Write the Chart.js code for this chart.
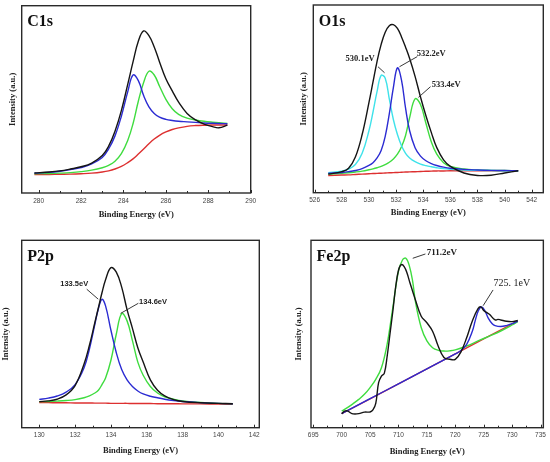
<!DOCTYPE html>
<html>
<head>
<meta charset="utf-8">
<script src="https://cdn.jsdelivr.net/npm/chart.js@4.4.1/dist/chart.umd.min.js"></script>
<style>
  html, body { margin: 0; padding: 0; background: #fff; }
  #wrap { position: relative; width: 550px; height: 462px; overflow: hidden; }
  .panel { position: absolute; width: 275px; height: 231px; }
</style>
</head>
<body>
<div id="wrap">
  <div class="panel" style="left:0;top:0"><canvas id="c1s" width="275" height="231"></canvas></div>
  <div class="panel" style="left:275px;top:0"><canvas id="o1s" width="275" height="231"></canvas></div>
  <div class="panel" style="left:0;top:231px"><canvas id="p2p" width="275" height="231"></canvas></div>
  <div class="panel" style="left:275px;top:231px"><canvas id="fe2p" width="275" height="231"></canvas></div>
</div>
<script>
// ---- C1s ----
var c1sEnergy = [279.8, 280.5, 281, 281.5, 282, 282.5, 283, 283.3, 283.6, 283.9, 284.2, 284.45, 284.7, 284.95, 285.2, 285.45, 285.7, 286, 286.3, 286.6, 287, 287.4, 287.8, 288.2, 288.5, 288.9];
var c1sTotal = [10.7, 11.2, 11.8, 12.8, 14.0, 16.0, 20.0, 25.0, 33.0, 44.0, 58.0, 70.0, 81.0, 86.5, 84.0, 78.0, 70.0, 61.0, 54.5, 48.5, 42.5, 39.0, 36.8, 35.4, 34.8, 36.2];
var c1sPeakA = [10.6, 11.0, 11.6, 12.5, 13.6, 15.5, 19.0, 23.5, 30.5, 41.0, 54.0, 63.0, 60.0, 52.0, 46.0, 42.5, 40.5, 39.3, 38.7, 38.3, 38.0, 37.7, 37.4, 37.2, 37.1, 37.0];
var c1sPeakB = [10.3, 10.4, 10.6, 10.9, 11.4, 12.2, 13.5, 14.8, 17.0, 21.0, 28.0, 37.0, 49.0, 59.0, 65.0, 63.0, 57.0, 50.0, 45.0, 42.0, 40.0, 39.0, 38.3, 37.8, 37.5, 37.2];
var c1sBackground = [9.8, 9.9, 10.0, 10.1, 10.3, 10.6, 11.2, 11.8, 12.8, 14.2, 16.2, 18.2, 20.8, 23.5, 26.3, 28.8, 30.8, 32.6, 33.9, 34.8, 35.6, 36.0, 36.2, 36.3, 36.3, 36.3];

// ---- O1s ----
var o1sEnergy = [527, 528, 528.5, 529, 529.5, 530, 530.3, 530.6, 530.9, 531.2, 531.5, 531.8, 532.1, 532.4, 532.7, 533, 533.4, 533.8, 534.2, 534.6, 535, 535.5, 536, 537, 538, 539, 540, 541];
var o1sTotal = [9.9, 11.2, 13.0, 19.0, 31.0, 48.0, 59.0, 70.0, 79.0, 85.5, 89.0, 89.5, 87.5, 83.0, 77.5, 71.5, 62.0, 51.0, 41.0, 32.0, 24.0, 17.5, 14.0, 10.5, 9.2, 9.3, 10.5, 11.7];
var o1sPeak530 = [10.7, 11.5, 12.5, 15.0, 21.0, 33.0, 43.0, 54.0, 62.5, 61.0, 50.0, 39.0, 31.0, 25.0, 21.0, 18.5, 16.5, 15.2, 14.4, 13.8, 13.3, 12.8, 12.5, 12.1, 11.9, 11.8, 11.7, 11.7];
var o1sPeak532 = [10.3, 10.8, 11.2, 11.8, 12.8, 14.5, 16.0, 18.5, 22.5, 30.0, 42.0, 56.0, 66.5, 60.0, 45.0, 33.0, 24.0, 19.5, 17.0, 15.5, 14.5, 13.6, 13.0, 12.4, 12.1, 11.9, 11.8, 11.7];
var o1sPeak533 = [9.9, 10.3, 10.6, 11.0, 11.5, 12.2, 12.7, 13.3, 14.0, 15.0, 16.2, 18.0, 20.5, 24.5, 30.5, 40.0, 50.0, 47.0, 37.0, 27.0, 20.5, 16.0, 14.0, 12.6, 12.1, 11.9, 11.8, 11.7];
var o1sBackground = [9.2, 9.4, 9.5, 9.7, 9.9, 10.1, 10.2, 10.3, 10.4, 10.5, 10.6, 10.7, 10.8, 10.9, 11.0, 11.1, 11.2, 11.3, 11.4, 11.5, 11.6, 11.6, 11.7, 11.7, 11.7, 11.7, 11.7, 11.7];

// ---- P2p ----
var p2pEnergy = [130, 130.5, 131, 131.5, 132, 132.5, 132.8, 133.1, 133.3, 133.5, 133.7, 134, 134.3, 134.6, 134.9, 135.2, 135.5, 135.8, 136.2, 136.6, 137, 137.5, 138, 139, 140, 140.8];
var p2pTotal = [13.9, 14.3, 15.2, 17.5, 22.5, 34.0, 44.0, 56.0, 64.0, 72.0, 79.0, 85.4, 83.0, 75.0, 63.0, 53.0, 42.7, 35.0, 25.5, 20.0, 17.0, 15.0, 14.0, 13.3, 13.0, 12.8];
var p2pPeak1335 = [15.1, 15.8, 16.9, 19.0, 23.0, 32.0, 42.0, 55.0, 63.5, 68.5, 65.0, 52.0, 40.0, 31.0, 25.5, 22.0, 19.6, 18.0, 16.8, 16.0, 15.2, 14.5, 14.0, 13.4, 13.0, 12.8];
var p2pPeak1346 = [13.9, 14.0, 14.2, 14.5, 15.0, 16.0, 17.0, 18.5, 20.0, 23.0, 26.5, 36.0, 50.0, 60.9, 57.0, 46.5, 35.0, 28.0, 22.0, 18.5, 16.5, 15.2, 14.3, 13.5, 13.0, 12.8];
var p2pBackground = [13.4, 13.4, 13.3, 13.3, 13.2, 13.2, 13.2, 13.1, 13.1, 13.1, 13.1, 13.0, 13.0, 13.0, 13.0, 12.9, 12.9, 12.9, 12.9, 12.8, 12.8, 12.8, 12.7, 12.7, 12.6, 12.5];

// ---- Fe2p ----
var fe2pTotalEnergy = [700, 700.5, 701, 701.5, 702, 703, 704, 705, 705.5, 706, 706.5, 707, 707.5, 708, 708.5, 709, 709.5, 710, 710.5, 711, 711.5, 712, 713, 714, 715, 716, 717, 718, 719, 720, 721, 722, 723, 724, 724.5, 725, 725.5, 726, 727, 727.5, 728, 729, 730, 731];
var fe2pTotal = [7.5, 8.8, 9.0, 8.0, 7.4, 7.5, 8.3, 8.4, 9.5, 13.0, 24.0, 27.5, 29.0, 38.0, 50.0, 62.0, 75.0, 84.0, 87.0, 86.0, 82.5, 77.5, 68.0, 59.5, 56.0, 51.5, 43.5, 37.5, 36.5, 36.5, 40.5, 48.0, 57.0, 63.5, 64.5, 62.5, 61.5, 60.5, 57.5, 57.8, 57.5, 56.8, 56.6, 57.2];
var fe2pFitEnergy = [700, 701, 702, 703, 704, 705, 706, 707, 708, 709, 710, 710.7, 711.3, 711.9, 712.5, 713, 714, 715, 716, 717, 718, 719, 720, 722, 724, 726, 728, 730, 731];
var fe2pFit711 = [8.9, 10.7, 12.8, 15.1, 17.8, 21.4, 25.8, 32.0, 44.5, 64.0, 83.5, 89.5, 90.4, 86.5, 78.0, 67.0, 53.5, 46.3, 42.7, 41.3, 40.9, 41.0, 41.5, 43.6, 46.3, 48.9, 51.6, 54.8, 56.6];
var fe2pPeakEnergy = [700, 705, 710, 715, 720, 721, 722, 723, 723.5, 724, 724.6, 725.2, 725.8, 726.5, 727, 728, 729, 730, 731];
var fe2pFit725 = [7.5, 15.5, 23.4, 31.4, 39.4, 41.2, 44.5, 51.5, 57.0, 62.0, 64.4, 62.5, 58.5, 55.5, 54.5, 54.0, 54.5, 55.5, 56.9];
var fe2pBgEnergy = [700, 710, 720, 731];
var fe2pBackground = [7.5, 23.4, 39.4, 56.9];

var BLACK = '#151515', BLUE = '#2b2bd2', GREEN = '#3fdc3f', RED = '#dd3030', CYAN = '#3fe2ea';

function series(xs, ys, color) {
  return {
    data: xs.map(function (x, i) { return { x: x, y: ys[i] }; }),
    borderColor: color,
    borderWidth: 1.4,
    pointRadius: 0,
    fill: false,
    tension: 0.4
  };
}

// frame, inward ticks, panel label and peak notes
function decor(label, notes) {
  return {
    id: 'decor',
    afterDraw: function (chart) {
      var ctx = chart.ctx, a = chart.chartArea, x = chart.scales.x, y = chart.scales.y;
      ctx.save();
      ctx.strokeStyle = '#2a2a2a';
      ctx.lineWidth = 1.4;
      ctx.strokeRect(a.left, a.top, a.right - a.left, a.bottom - a.top);

      ctx.lineWidth = 1;
      var ticks = x.ticks.map(function (t) { return t.value; });
      var half = (ticks[1] - ticks[0]) / 2;
      ticks.forEach(function (v) {
        [[v, 3], [v + half, 2]].forEach(function (m) {
          if (m[0] > x.max) return;
          var px = Math.round(x.getPixelForValue(m[0])) + 0.5;
          ctx.beginPath();
          ctx.moveTo(px, a.bottom);
          ctx.lineTo(px, a.bottom - m[1]);
          ctx.stroke();
        });
      });

      ctx.fillStyle = '#111';
      ctx.font = 'bold 16px "Liberation Serif"';
      ctx.textBaseline = 'alphabetic';
      ctx.textAlign = 'left';
      ctx.fillText(label, a.left + 5.5, a.top + 20.5);

      notes.forEach(function (n) {
        ctx.strokeStyle = '#222';
        ctx.lineWidth = 0.9;
        ctx.beginPath();
        ctx.moveTo(x.getPixelForValue(n.from[0]), y.getPixelForValue(n.from[1]));
        ctx.lineTo(x.getPixelForValue(n.to[0]), y.getPixelForValue(n.to[1]));
        ctx.stroke();
        ctx.font = n.font;
        ctx.textAlign = 'center';
        ctx.textBaseline = 'middle';
        ctx.fillStyle = '#222';
        ctx.fillText(n.text, x.getPixelForValue(n.at[0]), y.getPixelForValue(n.at[1]));
      });
      ctx.restore();
    }
  };
}

function makePanel(id, p) {
  return new Chart(document.getElementById(id), {
    type: 'line',
    data: { datasets: p.datasets },
    options: {
      responsive: false,
      animation: false,
      layout: { padding: { left: 0, top: p.area.top, right: 275 - p.area.right, bottom: 0 } },
      plugins: { legend: { display: false }, tooltip: { enabled: false } },
      scales: {
        x: {
          type: 'linear',
          min: p.min,
          max: p.max,
          grid: { display: false, drawTicks: false },
          border: { display: false },
          ticks: {
            stepSize: p.step,
            includeBounds: false,
            maxRotation: 0,
            padding: 4,
            color: '#444',
            font: { family: '"Liberation Sans"', size: 6.5 }
          },
          title: {
            display: true,
            text: 'Binding Energy (eV)',
            color: '#222',
            font: { family: '"Liberation Serif"', size: 8.5, weight: 'bold' },
            padding: { top: 0, bottom: p.xTitlePad }
          },
          afterFit: function (s) { s.height = 231 - p.area.bottom; }
        },
        y: {
          min: 0,
          max: 100,
          grid: { display: false, drawTicks: false },
          border: { display: false },
          ticks: { display: false },
          title: {
            display: true,
            text: 'Intensity (a.u.)',
            color: '#222',
            font: { family: '"Liberation Serif"', size: 8.5, weight: 'bold' },
            padding: { top: p.yTitlePad, bottom: 0 }
          },
          afterFit: function (s) { s.width = p.area.left; }
        }
      }
    },
    plugins: [decor(p.label, p.notes)]
  });
}

var noteBold = 'bold 8.5px "Liberation Serif"';

makePanel('c1s', {
  label: 'C1s',
  area: { left: 21.7, right: 250.7, top: 5.7, bottom: 193 },
  min: 279.2, max: 290, step: 2,
  xTitlePad: 10.9, yTitlePad: 7.9,
  notes: [],
  datasets: [
    series(c1sEnergy, c1sTotal, BLACK),
    series(c1sEnergy, c1sPeakA, BLUE),
    series(c1sEnergy, c1sPeakB, GREEN),
    series(c1sEnergy, c1sBackground, RED)
  ]
});

makePanel('o1s', {
  label: 'O1s',
  area: { left: 38.3, right: 268.3, top: 5, bottom: 192.7 },
  min: 525.9, max: 542.85, step: 2,
  xTitlePad: 13.2, yTitlePad: 23.2,
  notes: [
    { text: '530.1eV', at: [529.35, 71.3], from: [530.67, 67.1], to: [531.15, 63.9], font: noteBold },
    { text: '532.2eV', at: [534.59, 73.8], from: [533.56, 72.5], to: [532.25, 67.1], font: noteBold },
    { text: '533.4eV', at: [535.69, 57.3], from: [534.54, 56.5], to: [533.65, 50.8], font: noteBold }
  ],
  datasets: [
    series(o1sEnergy, o1sTotal, BLACK),
    series(o1sEnergy, o1sPeak532, BLUE),
    series(o1sEnergy, o1sPeak530, CYAN),
    series(o1sEnergy, o1sPeak533, GREEN),
    series(o1sEnergy, o1sBackground, RED)
  ]
});

makePanel('p2p', {
  label: 'P2p',
  area: { left: 21.7, right: 259.3, top: 9.3, bottom: 196.7 },
  min: 129.02, max: 142.28, step: 2,
  xTitlePad: 5.9, yTitlePad: 0.9,
  notes: [
    { text: '133.5eV', at: [131.95, 76.6], from: [132.65, 73.9], to: [133.29, 68.6], font: 'bold 7.5px "Liberation Sans"' },
    { text: '134.6eV', at: [136.35, 67.0], from: [135.53, 66.4], to: [134.54, 61.0], font: 'bold 7.5px "Liberation Sans"' }
  ],
  datasets: [
    series(p2pEnergy, p2pTotal, BLACK),
    series(p2pEnergy, p2pPeak1335, BLUE),
    series(p2pEnergy, p2pPeak1346, GREEN),
    series(p2pEnergy, p2pBackground, RED)
  ]
});

makePanel('fe2p', {
  label: 'Fe2p',
  area: { left: 36, right: 269.3, top: 9.3, bottom: 196.7 },
  min: 694.6, max: 735.5, step: 5,
  xTitlePad: 5.2, yTitlePad: 18.9,
  notes: [
    { text: '711.2eV', at: [717.63, 93.6], from: [714.74, 92.7], to: [712.51, 90.4], font: 'bold 9px "Liberation Serif"' },
    { text: '725. 1eV', at: [729.97, 77.1], from: [726.65, 73.5], to: [724.9, 65.1], font: '10px "Liberation Serif"' }
  ],
  datasets: [
    series(fe2pTotalEnergy, fe2pTotal, BLACK),
    series(fe2pPeakEnergy, fe2pFit725, BLUE),
    series(fe2pFitEnergy, fe2pFit711, GREEN),
    series(fe2pBgEnergy, fe2pBackground, RED)
  ]
});
</script>
</body>
</html>
